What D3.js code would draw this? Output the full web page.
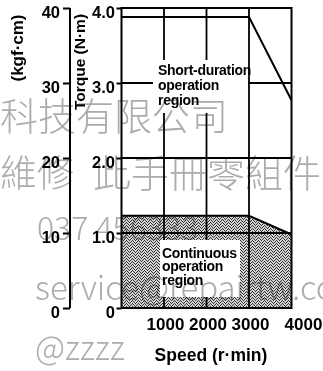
<!DOCTYPE html>
<html>
<head>
<meta charset="utf-8">
<script src="https://cdn.jsdelivr.net/npm/d3@7"></script>
<style>
  html, body { margin: 0; padding: 0; background: #fff; }
  svg { display: block; }
  .num { font-family: "Liberation Sans", Arial, sans-serif; font-weight: bold; fill: #000; }
  .wm { font-family: "Noto Sans CJK TC", "Noto Sans", sans-serif; fill: #acacac; }
</style>
</head>
<body>
<script>
// Speed (r/min) ticks and torque axis ticks
const speedTicks = [1000, 2000, 3000, 4000];
const torqueTicks = [0, 1, 2, 3, 4];          // N·m
const kgfTicks = [0, 10, 20, 30, 40];         // kgf·cm
const gridTorque = [1, 2, 3];
const gridSpeed = [1000, 2000, 3000];

// Operating envelope: speed breakpoints and torque limits
const curveSpeed = [0, 3000, 4000];
const shortTorque = [3.88, 3.88, 2.77];       // short-duration limit
const contTorque = [1.23, 1.23, 0.98];        // continuous limit

const W = 323, H = 371;
const svg = d3.select("body").append("svg").attr("width", W).attr("height", H);

const x = d3.scaleLinear().domain([0, 4000]).range([121.5, 291.5]);
const y = d3.scaleLinear().domain([0, 4]).range([308, 8]);
const yk = d3.scaleLinear().domain([0, 40]).range([308, 8]);

// stipple pattern for the continuous region
const defs = svg.append("defs");
const pat = defs.append("pattern").attr("id", "stip")
  .attr("patternUnits", "userSpaceOnUse").attr("width", 6).attr("height", 6);
pat.append("rect").attr("width", 6).attr("height", 6).attr("fill", "#d2d2d2");
const dots = [[0,0],[3,0],[1,1],[4,2],[2,2],[5,1],[0,3],[3,3],[1,4],[4,5],[2,5],[5,4]];
pat.selectAll("rect.d").data(dots).join("rect").attr("class", "d")
  .attr("x", d => d[0]).attr("y", d => d[1]).attr("width", 1).attr("height", 1)
  .attr("fill", "#333");

const pts = (ts) => curveSpeed.map((s, i) => [x(s), y(ts[i])]);
const line = d3.line();

// continuous region (shaded area down to the speed axis)
const area = d3.area().x(d => x(d[0])).y0(y(0)).y1(d => y(d[1]));
svg.append("path")
  .datum(curveSpeed.map((s, i) => [s, contTorque[i]]))
  .attr("d", area).attr("fill", "url(#stip)");

// grid lines
svg.append("g").selectAll("line").data(gridTorque).join("line")
  .attr("x1", x(0)).attr("x2", x(4000)).attr("y1", d => y(d)).attr("y2", d => y(d))
  .attr("stroke", "#000").attr("stroke-width", 1.8);
svg.append("g").selectAll("line").data(gridSpeed).join("line")
  .attr("x1", d => x(d)).attr("x2", d => x(d)).attr("y1", y(0)).attr("y2", y(4))
  .attr("stroke", "#000").attr("stroke-width", 1.8);

// white label boxes
svg.append("rect").attr("x", 153).attr("y", 60).attr("width", 95).attr("height", 53).attr("fill", "#fff");
svg.append("rect").attr("x", 160).attr("y", 240).attr("width", 80).attr("height", 57).attr("fill", "#fff");

// limit curves
svg.append("path").attr("d", line(pts(contTorque)))
  .attr("fill", "none").attr("stroke", "#000").attr("stroke-width", 2);
svg.append("path").attr("d", line(pts(shortTorque)))
  .attr("fill", "none").attr("stroke", "#000").attr("stroke-width", 2);

// frame
svg.append("rect").attr("x", x(0)).attr("y", y(4))
  .attr("width", x(4000) - x(0)).attr("height", y(0) - y(4))
  .attr("fill", "none").attr("stroke", "#000").attr("stroke-width", 2);

// region labels
function block(lines, x0, y0, dy) {
  const t = svg.append("text").attr("class", "num")
    .attr("font-size", 14).attr("letter-spacing", -0.3);
  lines.forEach((s, i) => t.append("tspan").attr("x", x0).attr("y", y0 + i * dy).text(s));
}
block(["Short-duration", "operation", "region"], 158, 75, 15);
block(["Continuous", "operation", "region"], 162, 257.5, 13.5);

// torque axis (N·m)
const fmt = d => d === 0 ? "0" : d.toFixed(1);
const ga = svg.append("g").attr("transform", `translate(${x(0)},0)`)
  .call(d3.axisLeft(y).tickValues(torqueTicks).tickFormat(fmt).tickSize(5).tickPadding(1.5));
ga.select(".domain").remove();
ga.selectAll("line").attr("stroke", "#000").attr("stroke-width", 2);
ga.selectAll("text").attr("class", "num").attr("font-size", 16.5).attr("dy", "0.55em")
  .attr("font-family", null);

// kgf·cm axis
const gk = svg.append("g").attr("transform", "translate(70,0)")
  .call(d3.axisLeft(yk).tickValues(kgfTicks).tickSize(7).tickPadding(3));
gk.select(".domain").attr("d", `M0,${yk(40)}V${yk(0)}`).attr("stroke", "#000").attr("stroke-width", 2);
gk.selectAll("line").attr("stroke", "#000").attr("stroke-width", 2);
gk.selectAll("text").attr("class", "num").attr("font-size", 16.5).attr("dy", "0.55em")
  .attr("font-family", null);

// speed axis labels
const gs = svg.append("g").attr("transform", `translate(0,${y(0)})`)
  .call(d3.axisBottom(x).tickValues(speedTicks).tickFormat(d3.format("d")).tickSize(0).tickPadding(10));
gs.select(".domain").remove();
gs.selectAll("text").attr("class", "num").attr("font-size", 17).attr("font-family", null)
  .attr("dx", d => d === 4000 ? 11.5 : 1);

// axis titles
svg.append("text").attr("class", "num").attr("font-size", 17.5)
  .attr("x", 211).attr("y", 361).attr("text-anchor", "middle").text("Speed (r·min)");
svg.append("text").attr("class", "num").attr("font-size", 17)
  .attr("transform", "translate(23,48) rotate(-90)").attr("text-anchor", "middle").text("(kgf·cm)");
svg.append("text").attr("class", "num").attr("font-size", 15.5)
  .attr("transform", "translate(85,62) rotate(-90)").attr("text-anchor", "middle").text("Torque (N·m)");

// watermark
const wm = svg.append("g").style("mix-blend-mode", "multiply");
const wmLines = [
  { t: "科技有限公司", x: 0, y: 130, s: 38 },
  { t: "維修", x: 0, y: 187, s: 37 },
  { t: "此手冊零組件", x: 93, y: 187, s: 38 },
  { t: "037 456333", x: 37, y: 240, s: 32 },
  { t: "service@repairtw.com", x: 35, y: 300, s: 33 },
  { t: "@zzzz", x: 35, y: 360, s: 33 }
];
wm.selectAll("text").data(wmLines).join("text").attr("class", "wm")
  .attr("x", d => d.x).attr("y", d => d.y).attr("font-size", d => d.s)
  .attr("font-weight", 300).text(d => d.t);
</script>
</body>
</html>
